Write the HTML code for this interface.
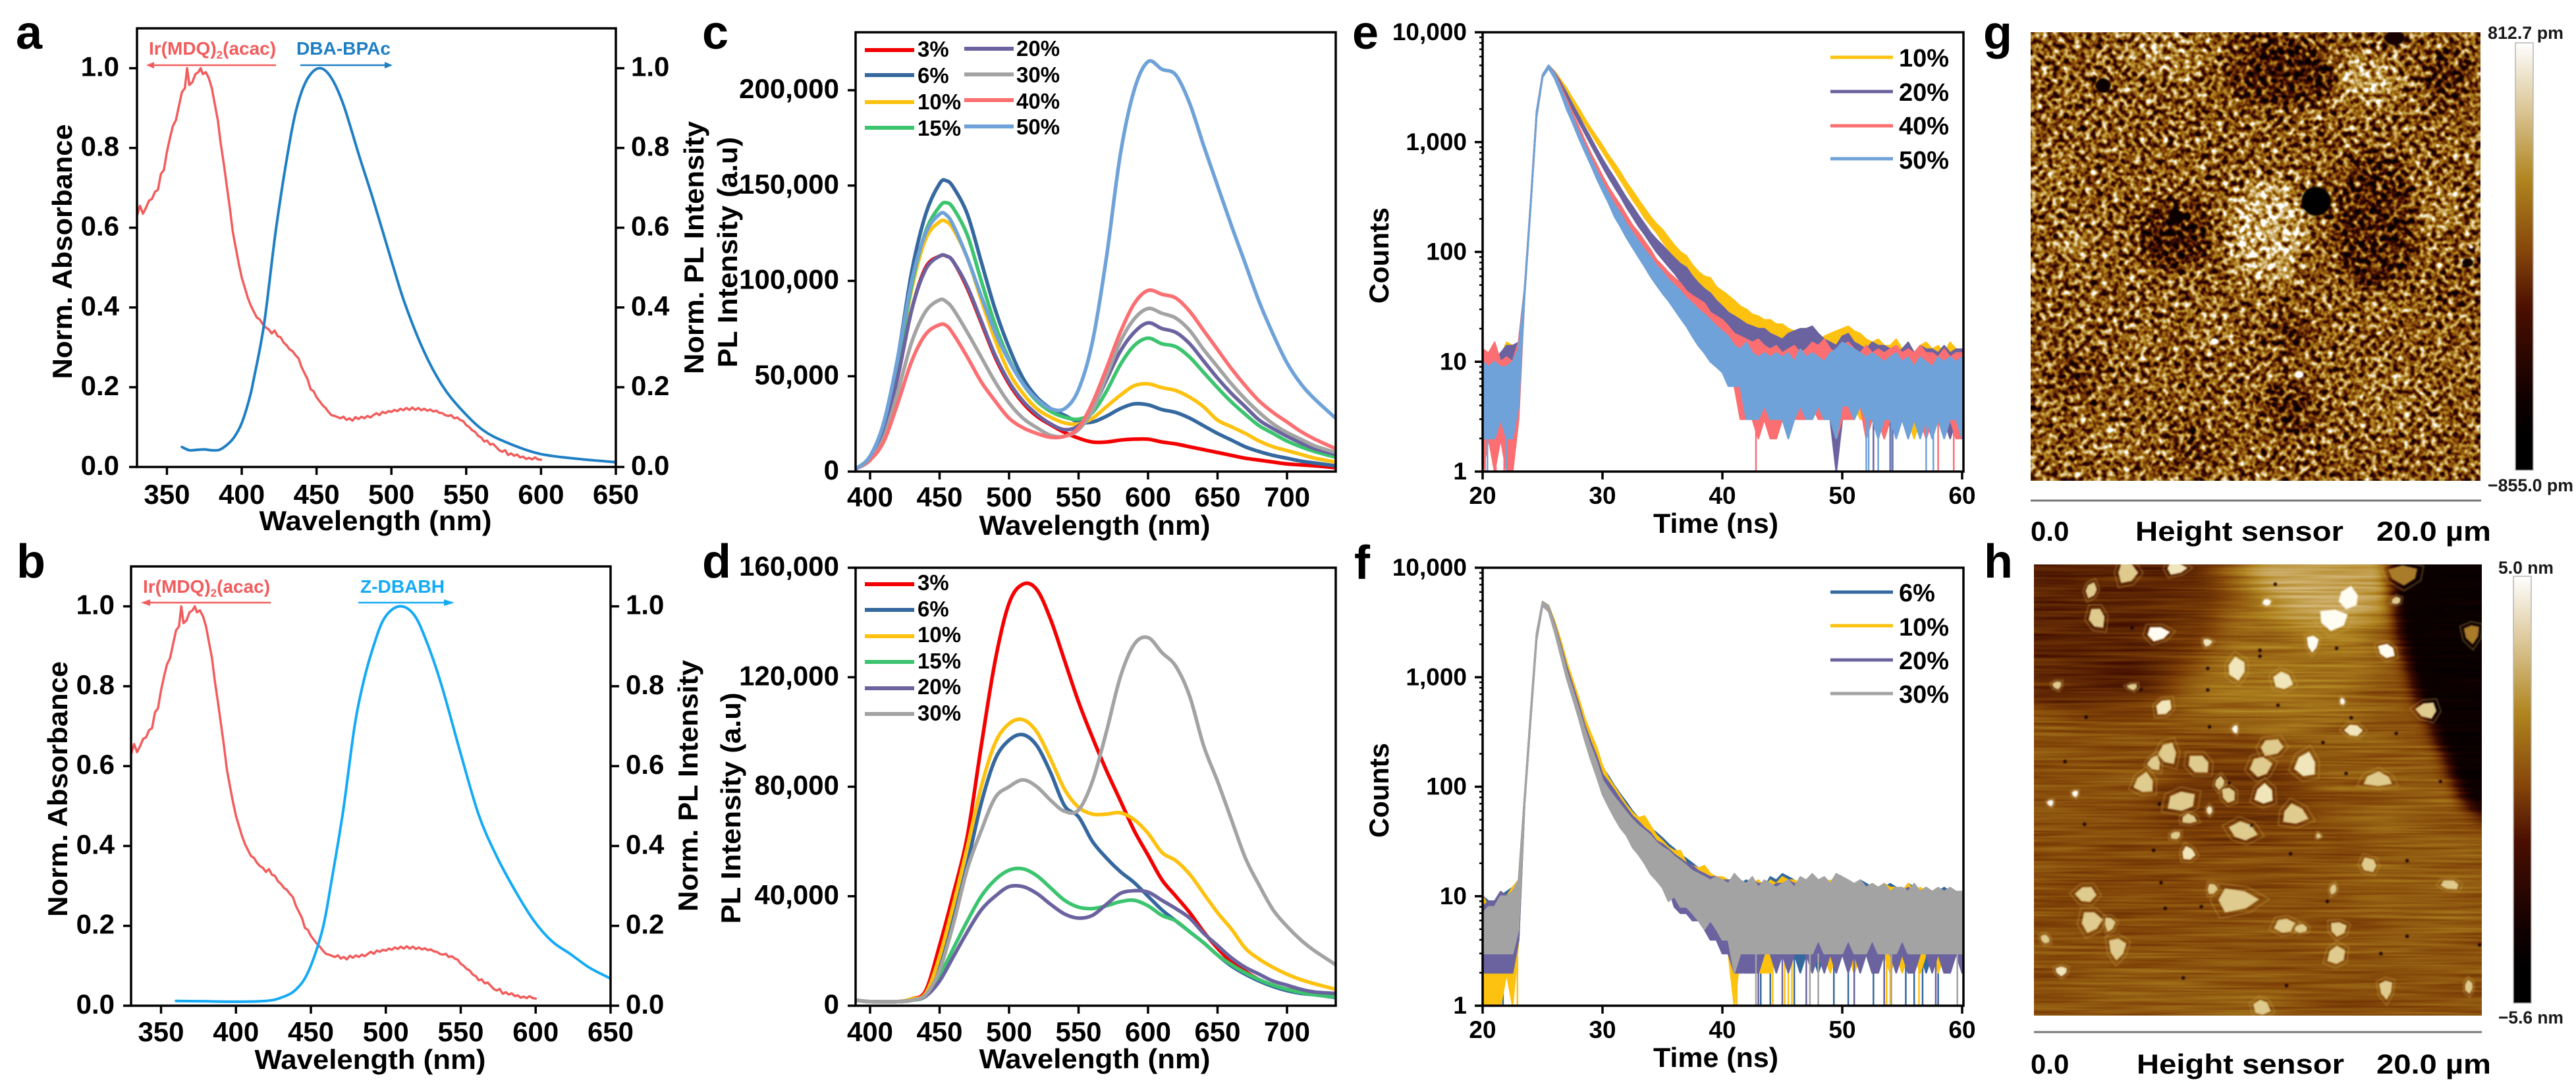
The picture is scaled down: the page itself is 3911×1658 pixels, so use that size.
<!DOCTYPE html>
<html lang="en">
<head>
<meta charset="utf-8">
<title>Photophysics and AFM figure</title>
<style>
html,body{margin:0;padding:0;background:#fff;}
svg{display:block;}
text{font-family:"Liberation Sans",sans-serif;font-weight:bold;fill:#000;}
</style>
</head>
<body>
<svg id="figure" xmlns="http://www.w3.org/2000/svg" width="3911" height="1658" viewBox="0 0 3911 1658">
<defs>
  <filter id="soft" x="-100%" y="-100%" width="300%" height="300%"><feGaussianBlur stdDeviation="22"/></filter>
  <filter id="softer" x="-50%" y="-50%" width="200%" height="200%"><feGaussianBlur stdDeviation="12"/></filter>
  <filter id="tiny" x="-50%" y="-50%" width="200%" height="200%"><feGaussianBlur stdDeviation="1"/></filter>
  <filter id="afmG" filterUnits="userSpaceOnUse" x="3083" y="49" width="683" height="681" color-interpolation-filters="sRGB">
    <feTurbulence type="fractalNoise" baseFrequency="0.12" numOctaves="2" seed="7" result="n"/>
    <feGaussianBlur in="n" stdDeviation="1" result="nb"/>
    <feColorMatrix in="nb" type="matrix" values="1.7 0 0 0 -0.35  1.7 0 0 0 -0.35  1.7 0 0 0 -0.35  0 0 0 0 1" result="g"/>
    <feComposite in="SourceGraphic" in2="g" operator="arithmetic" k1="0" k2="1" k3="1" k4="-0.5" result="m"/>
    <feComponentTransfer in="m">
      <feFuncR type="table" tableValues="0 .06 .25 .5 .69 .86 1"/>
      <feFuncG type="table" tableValues="0 0 .05 .26 .52 .76 1"/>
      <feFuncB type="table" tableValues="0 0 0 .03 .13 .55 1"/>
    </feComponentTransfer>
  </filter>
  <filter id="afmH" filterUnits="userSpaceOnUse" x="3088" y="857" width="680" height="685" color-interpolation-filters="sRGB">
    <feTurbulence type="fractalNoise" baseFrequency="0.006 0.22" numOctaves="2" seed="3" result="n"/>
    <feColorMatrix in="n" type="matrix" values="0.22 0 0 0 0.39  0.22 0 0 0 0.39  0.22 0 0 0 0.39  0 0 0 0 1" result="g"/>
    <feComposite in="SourceGraphic" in2="g" operator="arithmetic" k1="0" k2="1" k3="1" k4="-0.5" result="m"/>
    <feComponentTransfer in="m">
      <feFuncR type="table" tableValues="0 .06 .25 .5 .69 .86 1"/>
      <feFuncG type="table" tableValues="0 0 .05 .26 .52 .76 1"/>
      <feFuncB type="table" tableValues="0 0 0 .03 .13 .55 1"/>
    </feComponentTransfer>
  </filter>
  <linearGradient id="cbar" x1="0" y1="0" x2="0" y2="1">
    <stop offset="0" stop-color="#ffffff"/>
    <stop offset=".15" stop-color="#dcc89a"/>
    <stop offset=".32" stop-color="#b0851f"/>
    <stop offset=".49" stop-color="#85450a"/>
    <stop offset=".62" stop-color="#4a0f00"/>
    <stop offset=".83" stop-color="#100000"/>
    <stop offset=".92" stop-color="#000000"/>
    <stop offset="1" stop-color="#000000"/>
  </linearGradient>
  <clipPath id="clipG"><rect x="3083" y="49" width="683" height="681"/></clipPath>
  <clipPath id="clipH"><rect x="3088" y="857" width="680" height="685"/></clipPath>
</defs>

<!-- panel letters -->
<g font-size="72">
<text x="24" y="74">a</text>
<text x="25" y="877">b</text>
<text x="1066" y="74">c</text>
<text x="1066" y="877">d</text>
<text x="2053" y="74">e</text>
<text x="2056" y="879">f</text>
<text x="3011" y="74">g</text>
<text x="3012" y="877">h</text>
</g>

<g id="charts"></g>

<!-- axis titles -->
<g font-size="42">
<text x="570" y="805" text-anchor="middle" textLength="353" lengthAdjust="spacingAndGlyphs">Wavelength (nm)</text>
<text transform="translate(109 382) rotate(-90)" text-anchor="middle" textLength="387" lengthAdjust="spacingAndGlyphs">Norm. Absorbance</text>
<text transform="translate(1068 376) rotate(-90)" text-anchor="middle" textLength="384" lengthAdjust="spacingAndGlyphs">Norm. PL Intensity</text>
<text x="562" y="1623" text-anchor="middle" textLength="351" lengthAdjust="spacingAndGlyphs">Wavelength (nm)</text>
<text transform="translate(102 1198) rotate(-90)" text-anchor="middle" textLength="388" lengthAdjust="spacingAndGlyphs">Norm. Absorbance</text>
<text transform="translate(1059 1193) rotate(-90)" text-anchor="middle" textLength="382" lengthAdjust="spacingAndGlyphs">Norm. PL Intensity</text>
<text x="1662" y="812" text-anchor="middle" textLength="351" lengthAdjust="spacingAndGlyphs">Wavelength (nm)</text>
<text transform="translate(1119 383) rotate(-90)" text-anchor="middle" textLength="350" lengthAdjust="spacingAndGlyphs">PL Intensity (a.u)</text>
<text x="1662" y="1622" text-anchor="middle" textLength="351" lengthAdjust="spacingAndGlyphs">Wavelength (nm)</text>
<text transform="translate(1124 1227) rotate(-90)" text-anchor="middle" textLength="351" lengthAdjust="spacingAndGlyphs">PL Intensity (a.u)</text>
<text x="2605" y="809" text-anchor="middle" textLength="190" lengthAdjust="spacingAndGlyphs">Time (ns)</text>
<text transform="translate(2108 388) rotate(-90)" text-anchor="middle" textLength="146" lengthAdjust="spacingAndGlyphs">Counts</text>
<text x="2605" y="1620" text-anchor="middle" textLength="190" lengthAdjust="spacingAndGlyphs">Time (ns)</text>
<text transform="translate(2108 1200) rotate(-90)" text-anchor="middle" textLength="144" lengthAdjust="spacingAndGlyphs">Counts</text>
</g>

<!-- annotations a -->
<text x="226" y="83" font-size="28" style="fill:#f25c5c">Ir(MDQ)<tspan font-size="17" dy="6" style="fill:#f25c5c">2</tspan><tspan dy="-6" style="fill:#f25c5c">(acac)</tspan></text>
<g stroke="#f25c5c" fill="#f25c5c"><line x1="419" y1="99" x2="230" y2="99" stroke-width="2.5"/><polygon points="222,99 234,94 234,104" stroke="none"/></g>
<text x="450" y="83" font-size="28" textLength="143" lengthAdjust="spacingAndGlyphs" style="fill:#1f7fc4">DBA-BPAc</text>
<g stroke="#1f7fc4" fill="#1f7fc4"><line x1="456" y1="99" x2="588" y2="99" stroke-width="2.5"/><polygon points="596,99 584,94 584,104" stroke="none"/></g>
<!-- annotations b -->
<text x="217" y="900" font-size="28" style="fill:#f25c5c">Ir(MDQ)<tspan font-size="17" dy="6" style="fill:#f25c5c">2</tspan><tspan dy="-6" style="fill:#f25c5c">(acac)</tspan></text>
<g stroke="#f25c5c" fill="#f25c5c"><line x1="411" y1="915" x2="222" y2="915" stroke-width="2.5"/><polygon points="214,915 228,910 228,920" stroke="none"/></g>
<text x="547" y="900" font-size="28" textLength="128" lengthAdjust="spacingAndGlyphs" style="fill:#14aaf5">Z-DBABH</text>
<g stroke="#14aaf5" fill="#14aaf5"><line x1="544" y1="915" x2="682" y2="915" stroke-width="2.5"/><polygon points="690,915 674,910 674,920" stroke="none"/></g>

<!-- AFM g -->
<g clip-path="url(#clipG)">
  <g filter="url(#afmG)"><rect x="3083" y="49" width="683" height="681" fill="rgb(140,140,140)"/><g id="gBlotches"></g></g>
  <g id="gSpots"></g>
</g>
<rect x="3819" y="65" width="27" height="649" fill="url(#cbar)" stroke="#b5b5b5" stroke-width="1.5"/>
<text x="3777" y="59" font-size="27" textLength="115" lengthAdjust="spacingAndGlyphs" style="fill:#1a1a1a">812.7 pm</text>
<text x="3777" y="746" font-size="27" textLength="130" lengthAdjust="spacingAndGlyphs" style="fill:#1a1a1a">−855.0 pm</text>
<line x1="3083" y1="760" x2="3767" y2="760" stroke="#777" stroke-width="3"/>
<g font-size="42">
<text x="3083" y="821">0.0</text>
<text x="3242" y="821" textLength="316" lengthAdjust="spacingAndGlyphs">Height sensor</text>
<text x="3608" y="821" textLength="174" lengthAdjust="spacingAndGlyphs">20.0 µm</text>
</g>

<!-- AFM h -->
<g clip-path="url(#clipH)">
  <g filter="url(#afmH)"><rect x="3088" y="857" width="680" height="685" fill="rgb(136,136,136)"/><g id="hShades"></g></g>
  <g id="hFlakes" filter="url(#tiny)"></g>
</g>
<rect x="3816" y="875" width="27" height="648" fill="url(#cbar)" stroke="#b5b5b5" stroke-width="1.5"/>
<text x="3793" y="871" font-size="27" textLength="84" lengthAdjust="spacingAndGlyphs" style="fill:#1a1a1a">5.0 nm</text>
<text x="3793" y="1554" font-size="27" textLength="99" lengthAdjust="spacingAndGlyphs" style="fill:#1a1a1a">−5.6 nm</text>
<line x1="3088" y1="1567" x2="3768" y2="1567" stroke="#777" stroke-width="3"/>
<g font-size="42">
<text x="3083" y="1630">0.0</text>
<text x="3244" y="1630" textLength="315" lengthAdjust="spacingAndGlyphs">Height sensor</text>
<text x="3608" y="1630" textLength="174" lengthAdjust="spacingAndGlyphs">20.0 µm</text>
</g>
</svg>

<script>
// ---------- panels a & b: absorbance and emission ----------
const absNm = [330,332,334,336,338,340,342,344,346,348,350,352,354,356,358,360,362,363.5,365,367,369,371,372.5,374,376,378,380,382,384,386,388,390,392,394,396,398,400,402,404,406,408,410,412,414,416,418,420,422,424,426,428,430,432,434,436,438,440,442,444,446,448,450,452,454,456,458,460,462,464,466,468,470,472,474,476,478,480,482,484,486,488,490,492,494,496,498,500,502,504,506,508,510,512,514,516,518,520,522,524,526,528,530,532,534,536,538,540,542,544,546,548,550,552,554,556,558,560,562,564,566,568,570,572,574,576,578,580,582,584,586,588,590,592,594,596,598,600];
const absVal = [.630,.655,.635,.650,.668,.672,.690,.695,.735,.745,.790,.825,.855,.870,.905,.940,.950,1.000,.958,.965,.985,.990,1.000,.985,.990,.975,.950,.910,.870,.810,.760,.705,.650,.590,.550,.510,.475,.450,.425,.405,.390,.375,.370,.358,.350,.345,.335,.342,.328,.325,.312,.305,.295,.290,.280,.272,.250,.235,.220,.195,.190,.175,.165,.155,.148,.138,.130,.128,.125,.122,.126,.118,.122,.116,.125,.120,.126,.122,.128,.124,.130,.135,.130,.138,.135,.140,.138,.143,.140,.146,.142,.148,.143,.149,.143,.148,.142,.146,.141,.144,.139,.141,.136,.135,.130,.128,.130,.122,.124,.118,.115,.105,.100,.092,.088,.078,.074,.064,.066,.056,.058,.050,.042,.038,.042,.030,.034,.028,.031,.024,.026,.020,.023,.019,.024,.019,.018];
const dbaNm = [360,365,370,375,380,385,390,395,400,405,408,415,423,432.5,438.6,445,452.5,460,468,478.5,487.7,500,509,521.5,533.7,546,561,576.7,598,622.7,650];
const dbaVal = [.05,.042,.043,.044,.042,.043,.055,.075,.11,.17,.22,.36,.60,.825,.925,.98,1,.975,.908,.78,.672,.518,.41,.292,.206,.147,.093,.062,.034,.021,.012];
const zNm = [360,380,400,420,430,439.9,448.5,457.7,463.8,471.5,479,485,491.4,499,509,519,528,537.4,549.7,562,574,586.5,598.8,611,623,635.6,650];
const zVal = [.012,.011,.010,.012,.02,.04,.087,.19,.313,.487,.696,.809,.896,.97,1,.978,.904,.8,.635,.478,.374,.287,.213,.161,.13,.096,.068];
const normTicks = [0,.2,.4,.6,.8,1];
const normTickLabels = ['0.0','0.2','0.4','0.6','0.8','1.0'];
const absXTicks = [350,400,450,500,550,600,650];

// ---------- panel c: PL spectra (thousands of counts) ----------
const cNm = [390,400,410,420,430,440,450,455,460,470,480,490,500,510,520,530,540,550,560,570,580,590,600,610,620,630,640,650,660,670,680,690,700,710,720,735];
const c3 = [1.5,7,22,50,85,107,113,113,110,96,78,60,46,36,29,24.5,20.5,17.5,15.5,15.5,16.5,17,17,15.5,14.5,13,11.5,10,8.5,7,6,5,4,3.5,3,2];
const c6 = [1.5,8,26,60,105,135,151,152.5,149,135,110,85,65,49,39,33,29.5,26,26,29,33,35.5,35,32.5,31,28,24,20,16.5,13,10.5,8.5,7,5.5,4.5,3];
const c10 = [1.5,8,25,57,96,122,131,131,127,112,90,69,52,41,33,28.5,25.5,25,28,34,40,45,46,44,42.5,39,34,27,23.5,20,16,13,11,9,7,5];
const c15 = [1.5,8,25,57,98,126,139,141,138,124,100,77,59,46,37,31.5,28.5,27.5,31,42,56,66,70,67,65.5,60,52,44,36.5,30,24,20,16,13,10.5,7.5];
const c20 = [1.5,7,22,50,85,106,113,113,110,97,79,61,47,37,30,25,22,24,33,48,63,73,78,75,73,67,58,49,41,34,27,22.5,18.5,15,12,9];
const c30 = [1.5,6,18,42,68,84,90,89,85,73,60,47,36,28,23,19,18.5,22,32,50,68,80,85.5,83,80.5,74,64,55,46,38,31,25,20.5,17,13.5,10];
const c40 = [1.5,6,16,36,58,72,77,76.5,72,60,47,37,28,23,20,18,18.5,23,36,54,73,88,95,93,91,84,74,64,54,45,37,31,26,21,17,12];
const c50 = [1.5,8,26,60,100,125,135,134.5,129,112,92,73,58,46,38,33,33,43,68,112,166,200,215,211,208,193,171,150,129,109,89,72,57,46,38,28];
const cXTicks = [400,450,500,550,600,650,700];
const cYTicks = [0,50,100,150,200];
const cYLabels = ['0','50,000','100,000','150,000','200,000'];
const cNames = ['3%','6%','10%','15%','20%','30%','40%','50%'];

// ---------- panel d: PL spectra (thousands of counts) ----------
const dNm = [390,400,420,430,440,450,460,470,480,490,500,510,520,530,540,550,560,570,580,590,600,610,620,630,640,650,660,670,680,690,700,710,720,735];
const d3 = [2,1.5,1.5,2.5,5.5,22,41,62,95,126,147,154,152,141,126,111,98,86,75,64,55,46,40,34,27,21,16,12.5,9.5,7.5,6,5,4.5,3.5];
const d6 = [2,1.5,1.5,2,4,15,32,52,74,90,97,99,95,85,73,69,60,54,49,45,40,35,31,27,23,18.5,14.5,11.5,9,7,5.5,4.5,4,3];
const d10 = [2,1.5,1.5,2.5,4.5,18,37,58,80,96,103,104.5,100,90,79,72.5,70,70,70.5,68,63,56,53,48,41,34,28,21,17,14,11.5,9.5,8,6];
const d15 = [2,1.5,1.5,2,3.5,11,21,31,40,46,49.5,50,47.5,43,38.5,36,35.5,36.5,38,38.5,36.5,33,31,27,23,18.5,15,12,9.5,7.5,6,4.8,4,3.2];
const d20 = [2,1.5,1.5,2,3.5,9,18,27,35,40,43.5,43.5,41,37,33.5,32,33,37,41,42,41.5,38.5,35.5,32,26.5,22,17.5,14,11.5,9,7.5,6,5,4.5];
const d30 = [2,1.5,1.5,2,4,13,30,50,64,76,80,82.5,80,75,71,71.5,82,100,120,132,134.5,129,124,113,95,82,68,54,44,35,29,24,20,15];
const dYTicks = [0,40,80,120,160];
const dYLabels = ['0','40,000','80,000','120,000','160,000'];
const dNames = ['3%','6%','10%','15%','20%','30%'];

// ---------- panels e & f: decay traces, t = 20..60 ns in 0.5 ns steps ----------
const decayTime = [20,20.5,21,21.5,22,22.5,23,23.5,24,24.5,25,25.5,26,26.5,27,27.5,28,28.5,29,29.5,30,30.5,31,31.5,32,32.5,33,33.5,34,34.5,35,35.5,36,36.5,37,37.5,38,38.5,39,39.5,40,40.5,41,41.5,42,42.5,43,43.5,44,44.5,45,45.5,46,46.5,47,47.5,48,48.5,49,49.5,50,50.5,51,51.5,52,52.5,53,53.5,54,54.5,55,55.5,56,56.5,57,57.5,58,58.5,59,59.5,60];
const e10Hi = [11,10,10,11,15,14,14,46,280,1900,
4100,5000,4400,3700,3100,2500,2050,1650,1350,1120,
930,760,640,530,430,360,300,250,210,180,
160,135,115,100,92,76,66,60,58,48,
44,40,36,32,30,27,26,24,24,22,
22,20,19,17,16,18,15,17,18,19,
20,21,19,18,16,15,16,14,14,16,
13,15,12,14,15,13,14,12,15,13,
13];
const e10Lo = [2,2,3,2,2,3,5,40,250,1700,
3900,4700,4100,3400,2800,2280,1850,1500,1220,1000,
820,670,550,450,370,300,250,205,175,150,
125,105,90,78,64,56,48,40,36,30,
26,22,20,17,14,12,10,9,7,6,
5,5,4,4,3,3,4,3,3,3,
3,3,4,3,3,3,3,2,3,3,
3,3,2,3,3,3,3,2,3,3,
3];
const e20Hi = [10,11,10,12,14,14,15,46,280,1900,
4100,5000,4350,3500,2800,2200,1750,1380,1100,870,
700,570,470,380,310,260,215,180,150,130,
115,100,88,78,72,60,52,46,42,36,
32,28,26,24,22,21,20,20,18,17,
16,18,19,20,20,21,18,16,15,14,
17,18,15,14,13,15,14,14,13,12,
13,15,12,14,13,13,12,14,12,13,
13];
const e20Lo = [2,3,2,3,2,3,5,40,250,1700,
3900,4700,4000,3200,2550,2000,1550,1220,960,760,
600,480,390,320,255,210,172,145,120,100,
86,74,64,54,46,40,32,28,22,18,
16,13,12,10,8,7,6,5,5,4,
4,3,4,3,4,3,4,3,3,1,
3,4,3,4,3,3,3,2,3,3,
3,2,3,3,2,3,3,3,2,3,
3];
const e40Hi = [13,12,15,10,11,10,15,46,280,1900,
4100,5000,4300,3250,2450,1850,1400,1050,800,630,
490,390,320,265,215,175,150,125,105,85,
75,65,58,52,44,40,37,34,28,26,
24,21,18,17,16,15,16,14,13,14,
12,13,14,12,13,15,14,16,13,12,
14,15,13,12,14,12,13,12,13,14,
12,13,12,14,12,12,11,13,11,12,
12];
const e40Lo = [1,2,1,2,1,1,3,40,250,1700,
3900,4700,3900,2900,2150,1650,1250,920,700,540,
410,320,260,210,165,130,110,90,76,62,
50,44,38,30,26,22,18,15,12,11,
10,8,6,3,3,3,2,3,2,2,
3,2,3,3,3,4,3,3,3,2,
3,3,3,4,2,3,3,2,3,3,
3,2,3,3,2,3,3,2,3,2,
2];
const e50Hi = [10,9,10,9,9,10,13,46,280,1900,
4100,5000,4200,3100,2300,1700,1250,950,720,550,
430,340,270,225,180,150,125,105,90,75,
66,56,50,44,38,34,30,27,24,21,
19,17,14,13,15,12,11,12,11,12,
11,12,10,13,11,12,11,10,12,13,
15,14,13,12,11,12,11,10,11,12,
10,11,9,11,10,9,11,10,11,10,
11];
const e50Lo = [2,2,2,3,2,2,4,40,250,1700,
3900,4700,3800,2800,2000,1500,1100,830,630,470,
360,280,210,170,135,110,90,74,60,50,
42,36,30,25,21,17,14,12,10,9,
8,6,6,6,3,3,3,4,3,3,
3,2,3,4,3,3,4,3,3,2,
4,4,3,4,3,3,2,3,3,2,
3,2,3,2,3,2,3,2,3,3,
2];
const e40Drops = [20.2,21.1,21.8,22.1,42.8,58,59.3];
const e20Drops = [52.6,54,54.2];
const e50Drops = [20.4,22,52,52.2,53,54.1,57,57.6];

const f6Hi = [10,9,9,10,11,12,14,80,465,2500,
4900,4500,3200,2100,1350,920,620,420,300,220,
150,125,102,85,72,60,52,45,42,38,
34,30,27,24,22,20,18,17,16,15,
14,14,13,13,14,13,14,12,15,14,
16,15,14,13,13,14,13,14,13,12,
14,14,12,14,13,12,12,12,13,12,
11,13,12,11,12,11,11,12,11,11,
11];
const f6Lo = [2,3,2,2,3,2,4,70,400,2200,
4600,4100,2800,1800,1150,780,520,340,240,170,
120,95,78,64,54,44,38,32,26,22,
18,16,14,12,10,9,8,6,6,5,
4,3,3,3,2,3,2,3,2,3,
3,3,3,2,3,3,2,3,3,2,
3,3,2,3,3,2,3,3,2,3,
3,2,3,3,2,3,3,2,3,3,
3];
const f10Hi = [10,8,8,11,10,12,14,80,465,2500,
4900,4500,3250,2200,1400,950,650,430,310,230,
155,120,100,82,68,58,52,54,44,36,
32,28,26,26,20,19,18,19,16,15,
15,14,14,13,13,13,14,12,14,13,
15,14,14,13,13,14,12,13,14,13,
14,14,12,13,12,13,12,13,12,12,
11,13,11,12,11,11,12,11,11,11,
11];
const f10Lo = [1,1,1,1,2,1,4,70,400,2200,
4600,4100,2900,1900,1200,800,550,370,260,190,
130,100,82,70,58,50,40,36,30,25,
20,16,14,12,8,8,7,6,5,5,
4,3,1,3,3,3,2,2,2,3,
3,2,3,3,3,2,3,3,2,3,
3,3,2,3,3,2,3,3,2,3,
2,3,3,2,3,3,2,3,3,3,
3];
const f20Hi = [8,9,9,11,10,11,13,80,465,2500,
4900,4450,3100,2000,1250,850,570,370,260,190,
130,110,92,76,64,54,48,42,38,32,
30,27,24,22,20,19,17,16,15,15,
14,14,14,13,12,14,13,13,12,13,
13,14,13,13,12,14,13,13,12,13,
14,13,12,13,12,12,11,12,11,12,
11,12,11,11,12,11,11,11,11,11,
11];
const f20Lo = [2,2,2,2,2,2,4,70,400,2200,
4500,4000,2700,1700,1050,700,470,300,200,140,
95,75,62,50,42,34,28,24,20,16,
14,12,8,7,7,6,6,5,4,4,
3,3,2,2,2,2,2,3,3,2,
3,2,3,3,3,2,3,2,3,2,
3,2,3,2,3,2,2,3,3,2,
3,2,2,3,3,2,3,2,2,3,
2];
const f30Hi = [7,8,8,10,10,11,14,80,465,2500,
4900,4400,3000,1900,1150,780,520,340,235,170,
115,95,80,68,58,50,44,40,36,31,
28,26,23,21,19,17,16,15,14,15,
14,13,16,14,13,15,12,14,13,12,
13,14,12,15,14,16,14,15,13,16,
15,14,13,14,12,13,12,13,11,12,
12,11,13,11,12,11,12,11,12,11,
11];
const f30Lo = [3,3,3,3,3,3,5,70,400,2200,
4500,4000,2600,1600,980,650,430,270,180,125,
85,66,52,42,36,28,24,20,16,14,
12,9,10,8,8,7,6,5,6,5,
4,4,2,3,3,3,3,3,3,3,
3,3,3,3,3,3,4,3,3,3,
3,4,3,3,3,4,3,3,3,3,
4,3,3,3,3,3,3,3,3,3,
3];
const f6Drops = [21.7,43.2,44,46,49.3,50.5,52.6,55.3,56,56.7,58];
const f10Drops = [20.3,20.6,21,21.3,22.9,41.2,44.2,45.2,45.5,45.8,53.7,54,56.4];
const f20Drops = [43,45,47,51,53.5,57.8];
const f30Drops = [42.8,47.3,48,54.1,59.6];
const decayXTicks = [20,30,40,50,60];
const decayYTicks = [1,10,100,1000,10000];
const decayYLabels = ['1','10','100','1,000','10,000'];
const decayMinor = [2,3,4,5,6,7,8,9];

// ---------- colours ----------
const pctColor = {'3%':'#f40000','6%':'#35689f','10%':'#fdc10f','15%':'#3cc46f','20%':'#6a639f','30%':'#a3a3a3','40%':'#fb6f72','50%':'#6ea2d8'};
const NS = 'http://www.w3.org/2000/svg';
const root = document.getElementById('charts');

function linear(d0,d1,p0,p1){ return function(v){ return p0+(v-d0)*(p1-p0)/(d1-d0); }; }
function logScale(p1,p10k){ return function(v){ return p1+(Math.log10(v)/4)*(p10k-p1); }; }

function addLine(parent,name,x1,y1,x2,y2,w){
  const el=document.createElementNS(NS,'line');
  
  
  el.setAttribute('x1',x1);el.setAttribute('y1',y1);el.setAttribute('x2',x2);el.setAttribute('y2',y2);
  el.setAttribute('stroke','#000');el.setAttribute('stroke-width',w);
  parent.appendChild(el);
  return el;
}
function addText(parent,name,x,y,str,size,anchor){
  const el=document.createElementNS(NS,'text');
  
  
  el.setAttribute('x',x);el.setAttribute('y',y);el.setAttribute('font-size',size);
  el.setAttribute('text-anchor',anchor);
  el.textContent=str;
  parent.appendChild(el);
  return el;
}
function addGroup(name){
  const el=document.createElementNS(NS,'g');
  
  
  root.appendChild(el);
  return el;
}
function addClip(id,c){
  const cp=document.createElementNS(NS,'clipPath');
  cp.setAttribute('id',id);
  const r=document.createElementNS(NS,'rect');
  r.setAttribute('x',c.l);r.setAttribute('y',c.t);r.setAttribute('width',c.r-c.l);r.setAttribute('height',c.b-c.t);
  cp.appendChild(r);
  document.querySelector('defs').appendChild(cp);
}
function frame(g,c){
  const el=document.createElementNS(NS,'rect');
  
  
  el.setAttribute('x',c.l);el.setAttribute('y',c.t);el.setAttribute('width',c.r-c.l);el.setAttribute('height',c.b-c.t);
  el.setAttribute('fill','none');el.setAttribute('stroke','#000');el.setAttribute('stroke-width',3.5);
  g.appendChild(el);
}
function axes(g,c){
  frame(g,c);
  c.xt.forEach(function(v){
    addLine(g,c.id+'-x-tick',c.x(v),c.b,c.x(v),c.b+12,3.5);
    addText(g,c.id+'-x-tick-label',c.x(v),c.xb,String(v),c.fs,'middle');
  });
  c.yt.forEach(function(v,i){
    addLine(g,c.id+'-y-tick',c.l-12,c.y(v),c.l,c.y(v),3.5);
    addText(g,c.id+'-y-tick-label',c.ye,c.y(v)+c.yo,c.yl[i],c.fs,'end');
    if(c.right){
      addLine(g,c.id+'-right-y-tick',c.r,c.y(v),c.r+13,c.y(v),3.5);
      addText(g,c.id+'-right-y-tick-label',c.rs,c.y(v)+c.yo,c.yl[i],c.fs,'start');
    }
  });
  if(c.minor){
    for(let dec=1;dec<10000;dec*=10){
      c.minor.forEach(function(m){
        addLine(g,c.id+'-y-minor-tick',c.l-5,c.y(dec*m),c.l,c.y(dec*m),2.5);
      });
    }
  }
}
function smoothPath(xs,ys,X,Y){
  const p=xs.map(function(v,i){return [X(v),Y(ys[i])];});
  let d='M'+p[0][0].toFixed(1)+' '+p[0][1].toFixed(1);
  for(let i=0;i<p.length-1;i++){
    const a=p[Math.max(i-1,0)],b=p[i],c=p[i+1],e=p[Math.min(i+2,p.length-1)];
    const c1x=b[0]+(c[0]-a[0])/6,c1y=b[1]+(c[1]-a[1])/6,c2x=c[0]-(e[0]-b[0])/6,c2y=c[1]-(e[1]-b[1])/6;
    d+=' C'+c1x.toFixed(1)+' '+c1y.toFixed(1)+' '+c2x.toFixed(1)+' '+c2y.toFixed(1)+' '+c[0].toFixed(1)+' '+c[1].toFixed(1);
  }
  return d;
}
function polyPath(xs,ys,X,Y){
  return xs.map(function(v,i){return (i?'L':'M')+X(v).toFixed(1)+' '+Y(ys[i]).toFixed(1);}).join(' ');
}
function addCurve(g,name,d,color,w,clip){
  const el=document.createElementNS(NS,'path');
  
  
  el.setAttribute('d',d);el.setAttribute('fill','none');el.setAttribute('stroke',color);el.setAttribute('stroke-width',w);
  el.setAttribute('stroke-linejoin','round');el.setAttribute('stroke-linecap','round');
  el.setAttribute('clip-path','url(#'+clip+')');
  g.appendChild(el);
}
function addBand(g,name,color,hi,lo,drops,c){
  const clip=c.id+'Clip';
  let d=decayTime.map(function(t,i){return (i?'L':'M')+c.x(t).toFixed(1)+' '+c.y(hi[i]).toFixed(1);}).join(' ');
  for(let i=decayTime.length-1;i>=0;i--){ d+=' L'+c.x(decayTime[i]).toFixed(1)+' '+c.y(lo[i]).toFixed(1); }
  const el=document.createElementNS(NS,'path');
  
  
  el.setAttribute('d',d+' Z');el.setAttribute('fill',color);el.setAttribute('stroke',color);el.setAttribute('stroke-width',2.5);
  el.setAttribute('stroke-linejoin','round');
  el.setAttribute('clip-path','url(#'+clip+')');
  g.appendChild(el);
  drops.forEach(function(t){
    const s=document.createElementNS(NS,'line');
    
    
    s.setAttribute('x1',c.x(t));s.setAttribute('x2',c.x(t));s.setAttribute('y1',c.y(3));s.setAttribute('y2',c.y(1));
    s.setAttribute('stroke',color);s.setAttribute('stroke-width',2.5);
    s.setAttribute('clip-path','url(#'+clip+')');
    g.appendChild(s);
  });
}
function legendEntry(g,name,x1,x2,yl,tx,by,label,size,w){
  const el=document.createElementNS(NS,'line');
  
  
  el.setAttribute('x1',x1);el.setAttribute('x2',x2);el.setAttribute('y1',yl);el.setAttribute('y2',yl);
  el.setAttribute('stroke',pctColor[label]);el.setAttribute('stroke-width',w);
  g.appendChild(el);
  addText(g,name+'-label',tx,by,label,size,'start');
}

// panel a
const pa={id:'a',l:208,r:935,t:43,b:709,x:linear(330,650,208,935),y:linear(0,1.1,709,43),xt:absXTicks,yt:normTicks,yl:normTickLabels,xb:765,ye:181,yo:12,fs:42,right:true,rs:958};
const ga=addGroup('panel-a-chart');
addClip('aClip',pa);
addCurve(ga,'absorbance-curve-a',polyPath(absNm,absVal,pa.x,pa.y),'#f25c5c',3.5,'aClip');
addCurve(ga,'emission-curve-dba-bpac',smoothPath(dbaNm,dbaVal,pa.x,pa.y),'#1f7fc4',4,'aClip');
axes(ga,pa);

// panel b
const pb={id:'b',l:199,r:927,t:860,b:1527,x:linear(330,650,199,927),y:linear(0,1.1,1527,860),xt:absXTicks,yt:normTicks,yl:normTickLabels,xb:1581,ye:174,yo:12,fs:42,right:true,rs:950};
const gb=addGroup('panel-b-chart');
addClip('bClip',pb);
addCurve(gb,'absorbance-curve-b',polyPath(absNm,absVal,pb.x,pb.y),'#f25c5c',3.5,'bClip');
addCurve(gb,'emission-curve-z-dbabh',smoothPath(zNm,zVal,pb.x,pb.y),'#14aaf5',4,'bClip');
axes(gb,pb);

// panel c
const pc={id:'c',l:1299,r:2028,t:49,b:716,x:linear(400,700,1321,1954),y:linear(0,200,716,137),xt:cXTicks,yt:cYTicks,yl:cYLabels,xb:769,ye:1274,yo:12,fs:42};
const gc=addGroup('panel-c-chart');
addClip('cClip',pc);
[c3,c6,c10,c15,c20,c30,c40,c50].forEach(function(s,i){
  addCurve(gc,'pl-curve-c-'+cNames[i].replace('%','pct'),smoothPath(cNm,s,pc.x,pc.y),pctColor[cNames[i]],5.5,'cClip');
});
axes(gc,pc);
const cLegendY1=[76,114,155,194], cLegendB1=[86,126,166,206], cLegendY2=[74,113,152,192], cLegendB2=[85,125,165,204];
cNames.forEach(function(n,i){
  if(i<4) legendEntry(gc,'legend-c-'+n.replace('%','pct'),1313,1388,cLegendY1[i],1393,cLegendB1[i],n,33,6);
  else legendEntry(gc,'legend-c-'+n.replace('%','pct'),1464,1539,cLegendY2[i-4],1543,cLegendB2[i-4],n,33,6);
});

// panel d
const pd={id:'d',l:1299,r:2028,t:862,b:1527,x:linear(400,700,1321,1954),y:linear(0,160,1527,862),xt:cXTicks,yt:dYTicks,yl:dYLabels,xb:1581,ye:1274,yo:12,fs:42};
const gd=addGroup('panel-d-chart');
addClip('dClip',pd);
[d3,d6,d10,d15,d20,d30].forEach(function(s,i){
  addCurve(gd,'pl-curve-d-'+dNames[i].replace('%','pct'),smoothPath(dNm,s,pd.x,pd.y),pctColor[dNames[i]],5.5,'dClip');
});
axes(gd,pd);
const dLegendY=[887,926,966,1005,1045,1084], dLegendB=[896,936,975,1015,1054,1094];
dNames.forEach(function(n,i){
  legendEntry(gd,'legend-d-'+n.replace('%','pct'),1313,1388,dLegendY[i],1393,dLegendB[i],n,33,6);
});

// panel e
const pe={id:'e',l:2251,r:2981,t:49,b:716,x:linear(20,60,2251,2979),y:logScale(716,49),xt:decayXTicks,yt:decayYTicks,yl:decayYLabels,xb:765,ye:2227,yo:12,fs:37,minor:decayMinor};
const ge=addGroup('panel-e-chart');
addClip('eClip',pe);
addBand(ge,'decay-e-10pct',pctColor['10%'],e10Hi,e10Lo,[],pe);
addBand(ge,'decay-e-20pct',pctColor['20%'],e20Hi,e20Lo,e20Drops,pe);
addBand(ge,'decay-e-40pct',pctColor['40%'],e40Hi,e40Lo,e40Drops,pe);
addBand(ge,'decay-e-50pct',pctColor['50%'],e50Hi,e50Lo,e50Drops,pe);
axes(ge,pe);
const eLabels=['10%','20%','40%','50%'], eLegendY=[87,139,191,241], eLegendB=[101,153,204,256];
eLabels.forEach(function(n,i){
  legendEntry(ge,'legend-e-'+n.replace('%','pct'),2779,2874,eLegendY[i],2883,eLegendB[i],n,38,5);
});

// panel f
const pf={id:'f',l:2251,r:2981,t:862,b:1527,x:linear(20,60,2251,2979),y:logScale(1527,862),xt:decayXTicks,yt:decayYTicks,yl:decayYLabels,xb:1576,ye:2227,yo:12,fs:37,minor:decayMinor};
const gf=addGroup('panel-f-chart');
addClip('fClip',pf);
addBand(gf,'decay-f-6pct',pctColor['6%'],f6Hi,f6Lo,f6Drops,pf);
addBand(gf,'decay-f-10pct',pctColor['10%'],f10Hi,f10Lo,f10Drops,pf);
addBand(gf,'decay-f-20pct',pctColor['20%'],f20Hi,f20Lo,f20Drops,pf);
addBand(gf,'decay-f-30pct',pctColor['30%'],f30Hi,f30Lo,f30Drops,pf);
axes(gf,pf);
const fLabels=['6%','10%','20%','30%'], fLegendY=[899,950,1002,1053], fLegendB=[913,965,1016,1067];
fLabels.forEach(function(n,i){
  legendEntry(gf,'legend-f-'+n.replace('%','pct'),2779,2874,fLegendY[i],2883,fLegendB[i],n,38,5);
});

// ---------- AFM image g ----------
function gx(z){return 3100+z/1.933;}
function gy(z){return z/1.823;}
function hx(z){return 3100+z/1.933;}
function hy(z){return 830+z/1.8937;}
const gBlotchList=[
 [660,640,110,150,'#fff',.5],[950,220,100,70,'#fff',.42],[370,150,120,60,'#fff',.26],[1150,580,70,70,'#fff',.24],[90,670,50,40,'#fff',.36],
 [300,940,50,40,'#fff',.18],[200,1230,60,50,'#fff',.2],[1020,1100,100,100,'#fff',.12],[500,900,70,60,'#fff',.14],[1000,830,80,40,'#fff',.18],[30,500,50,60,'#fff',.18],
 [390,650,100,90,'#000',.42],[700,200,150,100,'#000',.34],[830,220,50,40,'#000',.24],[980,620,120,200,'#000',.32],[730,920,60,60,'#000',.24],
 [730,1130,70,70,'#000',.32],[1190,210,70,80,'#000',.3],[100,1030,80,60,'#000',.18],[1200,800,50,50,'#000',.14],[450,1230,60,60,'#000',.18]];
const gHost=document.getElementById('gBlotches');
gBlotchList.forEach(function(b){
  const el=document.createElementNS(NS,'ellipse');
  
  
  el.setAttribute('cx',gx(b[0]));el.setAttribute('cy',gy(b[1]));el.setAttribute('rx',b[2]/1.933);el.setAttribute('ry',b[3]/1.823);
  el.setAttribute('fill',b[4]);el.setAttribute('opacity',b[5]);el.setAttribute('filter','url(#softer)');
  gHost.appendChild(el);
});
const gSpotList=[[180,237,22,20,'#0a0000'],[805,557,43,40,'#000'],[393,600,20,20,'#0a0000'],[1035,105,30,20,'#120300'],[1250,727,16,12,'#0a0000'],[40,655,8,8,'#1a0500'],[940,830,8,6,'#1a0500'],[507,945,11,9,'#fff'],[755,1037,13,10,'#fff'],[1260,683,6,5,'#fff']];
const gSpots=document.getElementById('gSpots');
gSpotList.forEach(function(b){
  const el=document.createElementNS(NS,'ellipse');
  
  
  el.setAttribute('cx',gx(b[0]));el.setAttribute('cy',gy(b[1]));el.setAttribute('rx',b[2]/1.933);el.setAttribute('ry',b[3]/1.823);
  el.setAttribute('fill',b[4]);el.setAttribute('filter','url(#tiny)');
  gSpots.appendChild(el);
});

// ---------- AFM image h ----------
const hShadeList=[[850,50,240,190,'#fff',.42],[650,300,340,240,'#fff',.14],[850,500,200,200,'#fff',.06],[150,150,380,320,'#000',.24],[560,720,240,160,'#000',.12],[250,1000,200,100,'#000',.06],[1120,900,190,320,'#fff',.06],[400,1290,320,70,'#fff',.08]];
const hHost=document.getElementById('hShades');
hShadeList.forEach(function(b){
  const el=document.createElementNS(NS,'ellipse');
  
  
  el.setAttribute('cx',hx(b[0]));el.setAttribute('cy',hy(b[1]));el.setAttribute('rx',b[2]/1.933);el.setAttribute('ry',b[3]/1.8937);
  el.setAttribute('fill',b[4]);el.setAttribute('opacity',b[5]);el.setAttribute('filter','url(#soft)');
  hHost.appendChild(el);
});
const hDark=document.createElementNS(NS,'polygon');


hDark.setAttribute('points',[[1000,-40],[1340,-40],[1340,800],[1240,740],[1170,570],[1100,430],[1050,250]].map(function(p){return hx(p[0])+','+hy(p[1]);}).join(' '));
hDark.setAttribute('fill','#000');hDark.setAttribute('opacity','.78');hDark.setAttribute('filter','url(#softer)');
hHost.appendChild(hDark);

const flakeColor={m:'#dfcb8e',b:'#f0e5bb',w:'#fffdf2',d:'#a97b2b'};
const flakeList=[[250,75,30,30,'m'],[395,62,30,18,'b'],[145,125,18,22,'m'],[162,205,25,30,'m'],[340,250,32,22,'w'],[485,275,14,12,'b'],[660,160,12,12,'w'],[900,148,32,30,'w'],[855,208,42,32,'w'],[795,278,18,25,'w'],[1012,300,25,22,'w'],[1040,155,14,12,'m'],[1060,80,45,28,'d'],[1262,248,24,28,'d'],[572,350,30,30,'b'],[707,385,27,28,'b'],[45,398,14,12,'m'],[265,403,16,10,'m'],[358,462,24,24,'b'],[882,445,8,10,'w'],[1130,470,30,25,'m'],[568,525,9,13,'w'],[915,528,24,20,'b'],[675,577,36,24,'m'],[370,595,27,32,'m'],[330,622,20,22,'m'],[460,625,35,27,'m'],[642,632,30,32,'m'],[775,628,33,35,'b'],[300,682,30,30,'m'],[522,680,16,18,'m'],[548,714,20,24,'m'],[652,712,28,30,'b'],[988,670,42,22,'m'],[410,732,40,33,'m'],[492,758,10,12,'b'],[432,783,22,15,'m'],[740,770,38,30,'m'],[590,817,38,30,'m'],[392,830,16,12,'m'],[430,882,20,20,'b'],[812,832,8,8,'m'],[960,915,26,20,'m'],[130,1000,28,26,'m'],[500,984,16,16,'m'],[572,1015,60,35,'m'],[855,985,11,15,'m'],[1198,972,28,14,'m'],[145,1078,30,32,'m'],[198,1085,16,22,'m'],[712,1090,28,25,'m'],[760,1098,22,12,'m'],[870,1098,24,22,'m'],[222,1155,26,32,'m'],[10,1128,14,14,'m'],[865,1175,26,28,'m'],[57,1220,18,14,'b'],[1010,1270,20,28,'m'],[1253,1265,14,18,'m'],[645,1325,24,24,'m'],[98,710,10,10,'w'],[25,737,10,10,'w']];
const flakeShape=[[1.1,.9,1.15,.85,1.1,.95],[.85,1.2,.9,1.1,.8,1.1],[1.2,.95,.85,1.15,.95,.85],[1,1.1,.95,.9,1.2,.9]];
const hFlakes=document.getElementById('hFlakes');
flakeList.forEach(function(f,i){
  const s=flakeShape[i%4];
  function outline(scale){
    return s.map(function(m,k){
      const a=(k/6)*Math.PI*2+i;
      return hx(f[0]+Math.cos(a)*f[2]*m*scale).toFixed(1)+','+hy(f[1]+Math.sin(a)*f[3]*m*scale).toFixed(1);
    }).join(' ');
  }
  const ring=document.createElementNS(NS,'polygon');
  
  
  ring.setAttribute('points',outline(1.45));
  ring.setAttribute('fill','none');ring.setAttribute('stroke','#c8a24a');ring.setAttribute('stroke-width',2);ring.setAttribute('opacity','.4');
  hFlakes.appendChild(ring);
  const el=document.createElementNS(NS,'polygon');
  
  
  el.setAttribute('points',outline(1));
  el.setAttribute('fill',flakeColor[f[4]]);
  hFlakes.appendChild(el);
});
const hDots=[[685,108],[1190,180],[640,298],[640,315],[865,292],[487,350],[487,412],[693,456],[908,492],[1040,537],[825,563],[68,618],[893,652],[1170,675],[125,798],[328,873],[730,883],[1072,903],[350,966],[362,1040],[468,1035],[1072,1120],[995,1170],[415,1240],[718,1262],[265,233],[290,410],[130,490],[492,518],[550,680],[615,802],[345,740],[838,1020],[1285,1145]];
hDots.forEach(function(p){
  const el=document.createElementNS(NS,'circle');
  
  
  el.setAttribute('cx',hx(p[0]));el.setAttribute('cy',hy(p[1]));el.setAttribute('r',2.6);el.setAttribute('fill','#120500');
  hFlakes.appendChild(el);
});
</script>
</body>
</html>
